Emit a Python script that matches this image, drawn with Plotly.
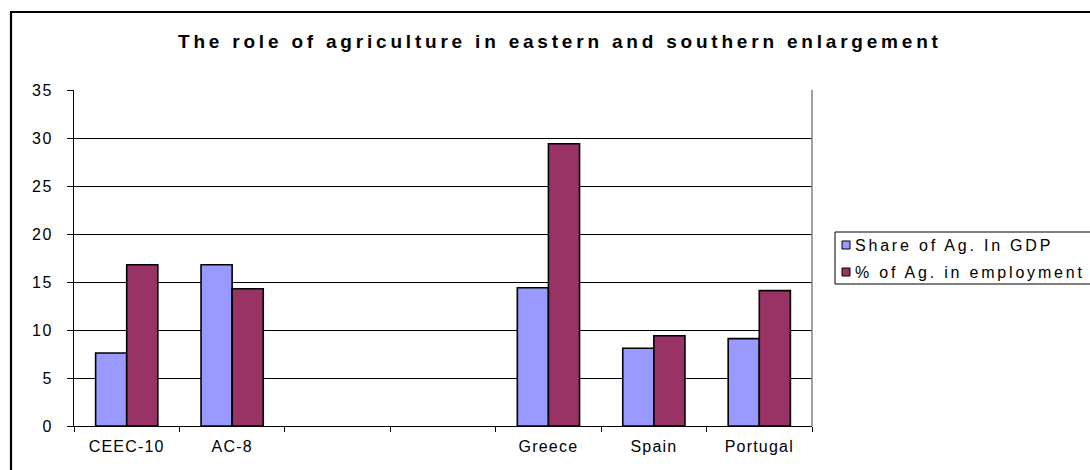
import plotly.graph_objects as go

# ---- data ----
categories = ["CEEC-10", "AC-8", " ", "  ", "Greece", "Spain", "Portugal"]
share_gdp = [7.6, 16.8, None, None, 14.4, 8.1, 9.1]
share_emp = [16.8, 14.3, None, None, 29.4, 9.4, 14.1]
series_names = ["Share of Ag. In GDP", "% of Ag. in employment"]
series_colors = ["#9999FF", "#993366"]
y_ticks = [0, 5, 10, 15, 20, 25, 30, 35]
title_text = "The role of agriculture in eastern and southern enlargement"

W, H = 1090, 470
L, R, T, B = 74, 812, 90, 426
FONT = "Liberation Sans, Arial, sans-serif"


def px_x(px):
    return (px - L) / (R - L)


def px_y(py):
    return (B - py) / (B - T)


def spaced(s, sp):
    return f'<span style="letter-spacing:{sp}px">{s}</span>'


fig = go.Figure()
for name, vals, col in zip(series_names, [share_gdp, share_emp], series_colors):
    fig.add_trace(go.Bar(
        x=categories, y=vals, name=name,
        marker=dict(color=col, line=dict(color="black", width=1.6)),
        showlegend=False,
    ))

shapes = []
# outer chart border (extends beyond page on right and bottom)
shapes.append(dict(type="rect", xref="paper", yref="paper",
                   x0=px_x(11), x1=px_x(W + 20), y0=px_y(H + 20), y1=px_y(12),
                   line=dict(color="black", width=2.2), fillcolor="rgba(0,0,0,0)",
                   layer="below"))
# plot area right border (gray)
shapes.append(dict(type="line", xref="paper", yref="paper",
                   x0=1, x1=1, y0=0, y1=1,
                   line=dict(color="#808080", width=1.5), layer="above"))

# manual legend
lg_left, lg_top, lg_bot = 835, 232, 284
shapes.append(dict(type="rect", xref="paper", yref="paper",
                   x0=px_x(lg_left), x1=px_x(W + 20), y0=px_y(lg_bot), y1=px_y(lg_top),
                   line=dict(color="black", width=1), fillcolor="white", layer="above"))
annotations = []
item_y = [245, 272]
for name, col, yy in zip(series_names, series_colors, item_y):
    shapes.append(dict(type="rect", xref="paper", yref="paper",
                       x0=px_x(842), x1=px_x(850), y0=px_y(yy + 4), y1=px_y(yy - 4),
                       line=dict(color="black", width=1), fillcolor=col, layer="above"))
    annotations.append(dict(xref="paper", yref="paper", x=px_x(853), y=px_y(yy),
                            xanchor="left", yanchor="middle", showarrow=False,
                            text=spaced(name, 2.8),
                            font=dict(family=FONT, size=16, color="black")))

# title
annotations.append(dict(xref="paper", yref="paper", x=px_x(560), y=px_y(41),
                        xanchor="center", yanchor="middle", showarrow=False,
                        text="<b>" + spaced(title_text, 3.8) + "</b>",
                        font=dict(family=FONT, size=19, color="black")))

fig.update_layout(
    width=W, height=H,
    margin=dict(l=L, r=W - R, t=T, b=H - B, autoexpand=False),
    paper_bgcolor="white", plot_bgcolor="white",
    barmode="group", bargap=0.41, bargroupgap=0,
    shapes=shapes, annotations=annotations,
    font=dict(family=FONT, size=15, color="black"),
)
fig.update_xaxes(
    type="category", categoryorder="array", categoryarray=categories,
    tickmode="array", tickvals=categories,
    ticktext=[spaced(c, 1.2) for c in categories],
    showline=True, linecolor="black", linewidth=1,
    ticks="outside", tickson="boundaries", ticklen=5, tickcolor="black",
    showgrid=False, tickfont=dict(family=FONT, size=16, color="black"),
    ticklabelstandoff=6,
)
fig.update_yaxes(
    range=[0, 35], tickmode="array", tickvals=y_ticks,
    ticktext=[spaced(str(v), 1.5) for v in y_ticks],
    showline=True, linecolor="black", linewidth=1,
    ticks="outside", ticklen=6, tickcolor="black",
    showgrid=True, gridcolor="black", gridwidth=1, zeroline=False,
    tickfont=dict(family=FONT, size=16, color="black"),
    ticklabelstandoff=11,
)

fig.write_html("out.html")
